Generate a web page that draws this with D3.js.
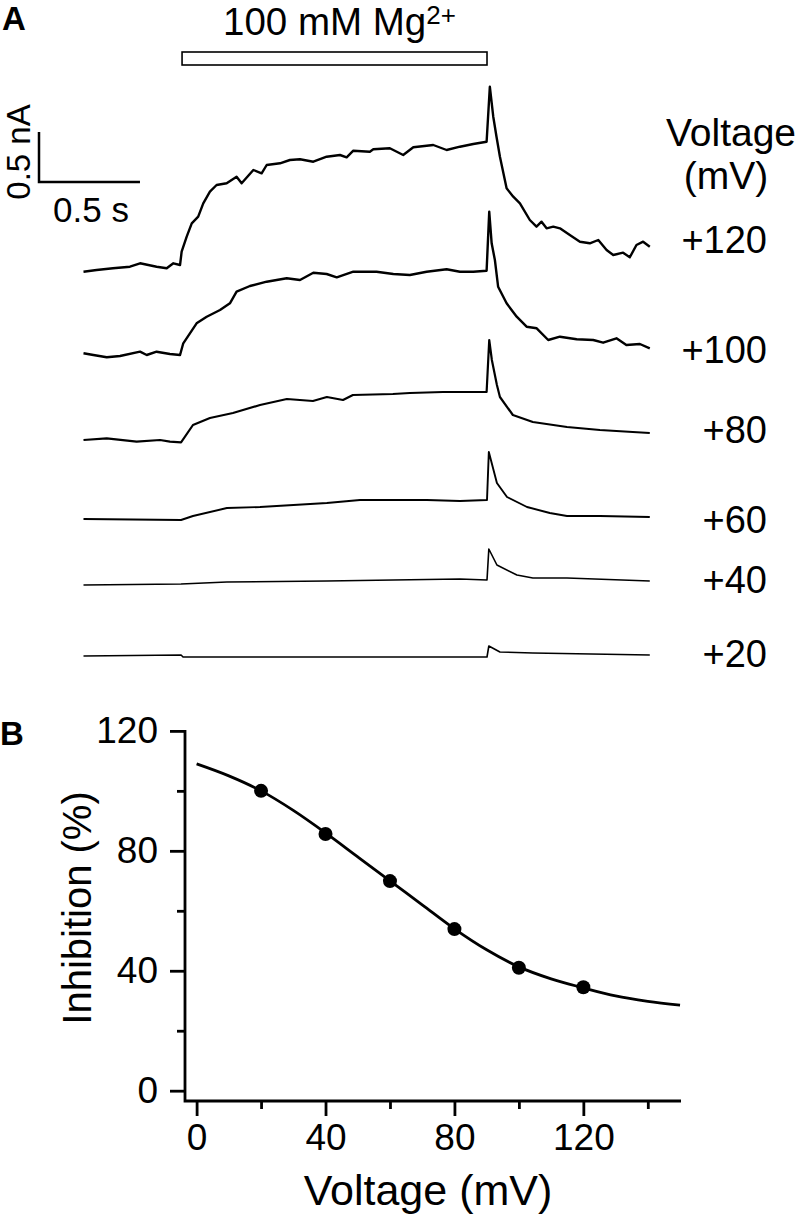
<!DOCTYPE html>
<html>
<head>
<meta charset="utf-8">
<script src="https://cdn.jsdelivr.net/npm/d3@7"></script>
<style>
  html, body { margin: 0; padding: 0; background: #fff; }
  svg { display: block; font-family: "Liberation Sans", Arial, Helvetica, sans-serif; }
</style>
</head>
<body>
<svg id="chart" width="800" height="1214"></svg>
<script>
// ---------------- DATA ----------------
// Panel A: current traces (time in s, current in nA relative to starting baseline)
const traceLabels = ["+120", "+100", "+80", "+60", "+40", "+20"];
const mgOn = 0.488, mgOff = 1.998;           // Mg2+ application (s)
const scaleBarCurrent = 0.5;                  // nA
const scaleBarTime = 0.5;                     // s

const trace120 = [
  [0,0],[0.065,0.017],[0.146,0.034],[0.230,0.05],[0.280,0.084],[0.362,0.05],[0.412,0.034],
  [0.445,0.084],[0.478,0.067],[0.486,0.20],[0.511,0.35],[0.536,0.484],[0.568,0.55],[0.593,0.684],
  [0.626,0.80],[0.659,0.867],[0.709,0.884],[0.758,0.95],[0.783,0.884],[0.841,1.017],[0.882,0.984],
  [0.907,1.067],[0.973,1.084],[1.022,1.117],[1.072,1.124],[1.138,1.10],[1.204,1.15],[1.270,1.167],
  [1.303,1.144],[1.336,1.21],[1.418,1.20],[1.435,1.224],[1.517,1.234],[1.583,1.167],[1.633,1.244],
  [1.732,1.267],[1.798,1.217],[1.864,1.25],[1.930,1.277],[1.996,1.30],[2.012,1.85],[2.029,1.55],
  [2.045,1.35],[2.062,1.15],[2.095,0.834],[2.128,0.75],[2.161,0.684],[2.210,0.517],[2.243,0.45],
  [2.268,0.50],[2.293,0.434],[2.326,0.45],[2.359,0.434],[2.408,0.367],[2.458,0.30],[2.507,0.284],
  [2.549,0.317],[2.590,0.217],[2.623,0.167],[2.672,0.19],[2.705,0.144],[2.738,0.267],[2.771,0.30],
  [2.804,0.25]
];
const trace100 = [
  [0,0],[0.049,-0.017],[0.115,-0.04],[0.181,-0.027],[0.280,0.016],[0.313,-0.017],[0.362,0.016],
  [0.428,-0.007],[0.478,-0.017],[0.494,0.10],[0.527,0.20],[0.560,0.30],[0.610,0.366],[0.676,0.433],
  [0.725,0.50],[0.758,0.616],[0.824,0.673],[0.907,0.716],[1.006,0.75],[1.072,0.733],[1.138,0.806],
  [1.204,0.793],[1.254,0.76],[1.336,0.816],[1.418,0.816],[1.451,0.816],[1.534,0.793],[1.616,0.783],
  [1.699,0.816],[1.798,0.84],[1.864,0.816],[1.930,0.816],[1.996,0.826],[2.009,1.416],[2.021,1.10],
  [2.037,0.933],[2.053,0.666],[2.095,0.50],[2.145,0.366],[2.194,0.266],[2.244,0.25],[2.301,0.133],
  [2.359,0.166],[2.442,0.14],[2.524,0.133],[2.573,0.106],[2.639,0.15],[2.688,0.083],[2.755,0.093],
  [2.804,0.05]
];
const trace80 = [
  [0,0],[0.115,0.017],[0.263,-0.017],[0.379,0],[0.428,-0.017],[0.483,-0.023],[0.542,0.15],
  [0.626,0.22],[0.740,0.27],[0.874,0.35],[1.007,0.41],[1.136,0.39],[1.205,0.43],[1.285,0.40],
  [1.334,0.45],[1.532,0.46],[1.616,0.47],[1.780,0.48],[1.864,0.48],[1.996,0.48],[2.009,1.00],
  [2.022,0.80],[2.047,0.55],[2.062,0.43],[2.126,0.25],[2.225,0.18],[2.394,0.13],[2.557,0.10],
  [2.720,0.08],[2.804,0.07]
];
const trace60 = [
  [0,0],[0.483,-0.01],[0.542,0.03],[0.710,0.11],[0.874,0.12],[1.205,0.16],[1.369,0.19],
  [1.700,0.19],[1.864,0.18],[1.998,0.19],[2.007,0.67],[2.047,0.36],[2.097,0.22],[2.196,0.12],
  [2.309,0.06],[2.394,0.03],[2.557,0.03],[2.804,0.02]
];
const trace40 = [
  [0,0],[0.483,0.01],[0.710,0.03],[1.205,0.04],[1.864,0.06],[1.998,0.05],[2.007,0.36],
  [2.047,0.20],[2.146,0.10],[2.225,0.07],[2.394,0.07],[2.804,0.04]
];
const trace20 = [
  [0,0],[0.483,0.01],[0.493,-0.01],[1.998,-0.01],[2.007,0.10],[2.062,0.04],[2.225,0.03],[2.804,0.01]
];
const traces = [trace120, trace100, trace80, trace60, trace40, trace20];

// Panel B: inhibition vs voltage
const voltages = [20, 40, 60, 80, 100, 120];
const inhibition = [100, 85.6, 69.9, 53.9, 41, 34.5];
const fitVoltage = [0, 10, 20, 30, 40, 50, 60, 70, 80, 90, 100, 110, 120, 130, 140, 150];
const fitInhibition = [109, 105, 100, 93.5, 86, 78, 70, 62, 54, 47, 41.3, 37.3, 34.3, 31.6, 29.8, 28.5];
const xTicksB = [0, 40, 80, 120];
const xMinorB = [20, 60, 100, 140];
const yTicksB = [0, 40, 80, 120];
const yMinorB = [20, 60, 100];

// ---------------- LAYOUT ----------------
const svg = d3.select("#chart");
const FONT = '"Liberation Sans", Arial, Helvetica, sans-serif';

// Panel A scales
const tScale = d3.scaleLinear().domain([0, 2.81]).range([83.5, 651]);
const pxPerNA = 100;
const baseY = [271.7, 353.3, 440, 519, 585, 656];
const labelY = [253, 363, 443, 533, 593, 667];
const strokeW = [2.4, 2.4, 2.2, 1.9, 1.6, 1.6];

svg.append("text").attr("x", 2).attr("y", 30).attr("font-size", 33).attr("font-weight", "bold").text("A");

// Mg label and bar
const mgText = svg.append("text").attr("x", 223).attr("y", 35).attr("font-size", 38.5);
mgText.append("tspan").text("100 mM Mg");
mgText.append("tspan").attr("font-size", 26).attr("dy", -11).text("2+");
svg.append("rect")
  .attr("x", tScale(mgOn)).attr("y", 52)
  .attr("width", tScale(mgOff) - tScale(mgOn)).attr("height", 13)
  .attr("fill", "#fff").attr("stroke", "#000").attr("stroke-width", 1.6);

// Scale bars
const sbX = 39, sbY = 182;
svg.append("path")
  .attr("d", `M${sbX},${sbY - scaleBarCurrent * pxPerNA}V${sbY}H${sbX + tScale(scaleBarTime) - tScale(0)}`)
  .attr("fill", "none").attr("stroke", "#000").attr("stroke-width", 2.5);
svg.append("text").attr("transform", "translate(30,152) rotate(-90)")
  .attr("text-anchor", "middle").attr("font-size", 33).text("0.5 nA");
svg.append("text").attr("x", 91).attr("y", 222)
  .attr("text-anchor", "middle").attr("font-size", 35).text("0.5 s");

// Voltage header
svg.append("text").attr("x", 731).attr("y", 146).attr("text-anchor", "middle").attr("font-size", 39).text("Voltage");
svg.append("text").attr("x", 726).attr("y", 189).attr("text-anchor", "middle").attr("font-size", 39).text("(mV)");

// Traces
traces.forEach((tr, i) => {
  const yS = d3.scaleLinear().domain([0, 1]).range([baseY[i], baseY[i] - pxPerNA]);
  const line = d3.line().x(d => tScale(d[0])).y(d => yS(d[1])).curve(d3.curveLinear);
  svg.append("path").datum(tr).attr("d", line)
    .attr("fill", "none").attr("stroke", "#000")
    .attr("stroke-width", strokeW[i]).attr("stroke-linejoin", "round");
  svg.append("text").attr("x", 767).attr("y", labelY[i])
    .attr("text-anchor", "end").attr("font-size", 38).text(traceLabels[i]);
});

// ---------------- PANEL B ----------------
svg.append("text").attr("x", 0).attr("y", 745).attr("font-size", 33).attr("font-weight", "bold").text("B");

const xB = d3.scaleLinear().domain([-3.6, 150.3]).range([185, 681]);
const yB = d3.scaleLinear().domain([-3.44, 120.3]).range([1101, 730]);

const gB = svg.append("g");
// axis lines
gB.append("path").attr("d", `M${xB.range()[0]},${yB.range()[1]}V${yB.range()[0]}H${xB.range()[1]}`)
  .attr("fill", "none").attr("stroke", "#000").attr("stroke-width", 2.8);

const xAxis = d3.axisBottom(xB).tickValues(xTicksB).tickSize(15).tickSizeOuter(0).tickPadding(8);
const xAxisMinor = d3.axisBottom(xB).tickValues(xMinorB).tickSize(8).tickSizeOuter(0).tickFormat("");
const yAxis = d3.axisLeft(yB).tickValues(yTicksB).tickSize(15).tickSizeOuter(0).tickPadding(12);
const yAxisMinor = d3.axisLeft(yB).tickValues(yMinorB).tickSize(8).tickSizeOuter(0).tickFormat("");

function styleAxis(g) {
  g.select(".domain").remove();
  g.selectAll(".tick line").attr("stroke", "#000").attr("stroke-width", 2.8);
  g.selectAll(".tick text").attr("fill", "#000").attr("font-size", 37).attr("font-family", FONT);
}
gB.append("g").attr("transform", `translate(0,${yB.range()[0]})`).call(xAxis).call(styleAxis);
gB.append("g").attr("transform", `translate(0,${yB.range()[0]})`).call(xAxisMinor).call(styleAxis);
gB.append("g").attr("transform", `translate(${xB.range()[0]},0)`).call(yAxis).call(styleAxis);
gB.append("g").attr("transform", `translate(${xB.range()[0]},0)`).call(yAxisMinor).call(styleAxis);

// fit curve
const fitData = fitVoltage.map((v, i) => [v, fitInhibition[i]]);
gB.append("path").datum(fitData)
  .attr("d", d3.line().x(d => xB(d[0])).y(d => yB(d[1])).curve(d3.curveMonotoneX))
  .attr("fill", "none").attr("stroke", "#000").attr("stroke-width", 2.8);

// points
gB.selectAll("circle.pt").data(voltages.map((v, i) => [v, inhibition[i]])).enter()
  .append("circle").attr("class", "pt")
  .attr("cx", d => xB(d[0])).attr("cy", d => yB(d[1])).attr("r", 7).attr("fill", "#000");

// axis titles
svg.append("text").attr("x", 428).attr("y", 1205).attr("text-anchor", "middle")
  .attr("font-size", 43).text("Voltage (mV)");
svg.append("text").attr("transform", "translate(91,908) rotate(-90)")
  .attr("text-anchor", "middle").attr("font-size", 40).text("Inhibition (%)");
</script>
</body>
</html>
